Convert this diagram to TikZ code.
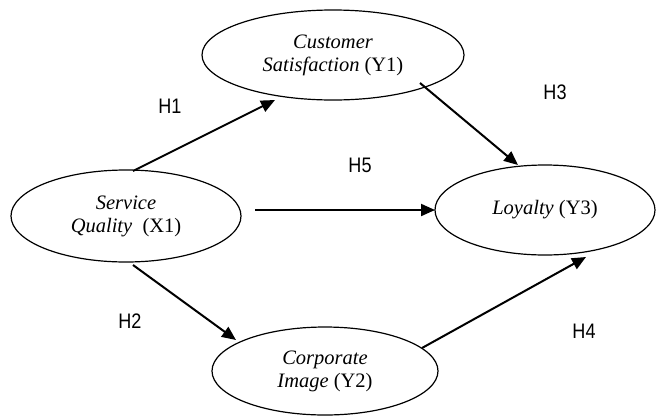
\documentclass[tikz,border=0pt]{standalone}
\usepackage{fontspec}
\setmainfont{Liberation Serif}
\newfontfamily\labelfont{Liberation Sans}
\usetikzlibrary{shapes.geometric,arrows.meta}

\tikzset{
  construct/.style={ellipse, draw, line width=1.2pt, inner sep=0pt, align=center,
    font=\fontsize{20.5}{23}\selectfont},
  path/.style={line width=2pt, -{Triangle[length=14pt,width=12pt]}},
  hyp/.style={inner sep=0pt, font=\labelfont\fontsize{21}{21}\selectfont}
}
\newcommand{\hlabel}[1]{\scalebox{0.86}[1]{#1}}

\begin{document}
\begin{tikzpicture}[x=1pt,y=-1pt]
  \useasboundingbox (0,0) rectangle (660,418);

  % latent constructs
  \node[construct, minimum width=262pt, minimum height=90pt] (cs) at (333,55)
    {\textit{Customer}\\\textit{Satisfaction} (Y1)};
  \node[construct, minimum width=230pt, minimum height=92pt] (sq) at (126,216)
    {\textit{Service}\\\textit{Quality}\ \ (X1)};
  \node[construct, minimum width=220pt, minimum height=90pt] (loy) at (545,210)
    {\textit{Loyalty} (Y3)};
  \node[construct, minimum width=226pt, minimum height=88pt] (ci) at (325,371)
    {\textit{Corporate}\\\textit{Image} (Y2)};

  % hypothesised paths
  \draw[path] ([shift={(7,-45)}]sq.center) -- ([shift={(-58,45)}]cs.center);
  \draw[path] ([shift={(87,28)}]cs.center) -- ([shift={(-27,-45)}]loy.center);
  \draw[path] ([shift={(129,-6)}]sq.center) -- ([shift={(-110,0)}]loy.center);
  \draw[path] ([shift={(7,49)}]sq.center) -- ([shift={(-89,-31)}]ci.center);
  \draw[path] ([shift={(97,-23)}]ci.center) -- ([shift={(41,47)}]loy.center);

  % hypothesis labels
  \node[hyp] (h1) at (170,106) {\hlabel{H1}};
  \node[hyp] (h3) at (555,92) {\hlabel{H3}};
  \node[hyp] (h5) at (360,165) {\hlabel{H5}};
  \node[hyp] (h2) at (130,321) {\hlabel{H2}};
  \node[hyp] (h4) at (584,331) {\hlabel{H4}};
\end{tikzpicture}
\end{document}
